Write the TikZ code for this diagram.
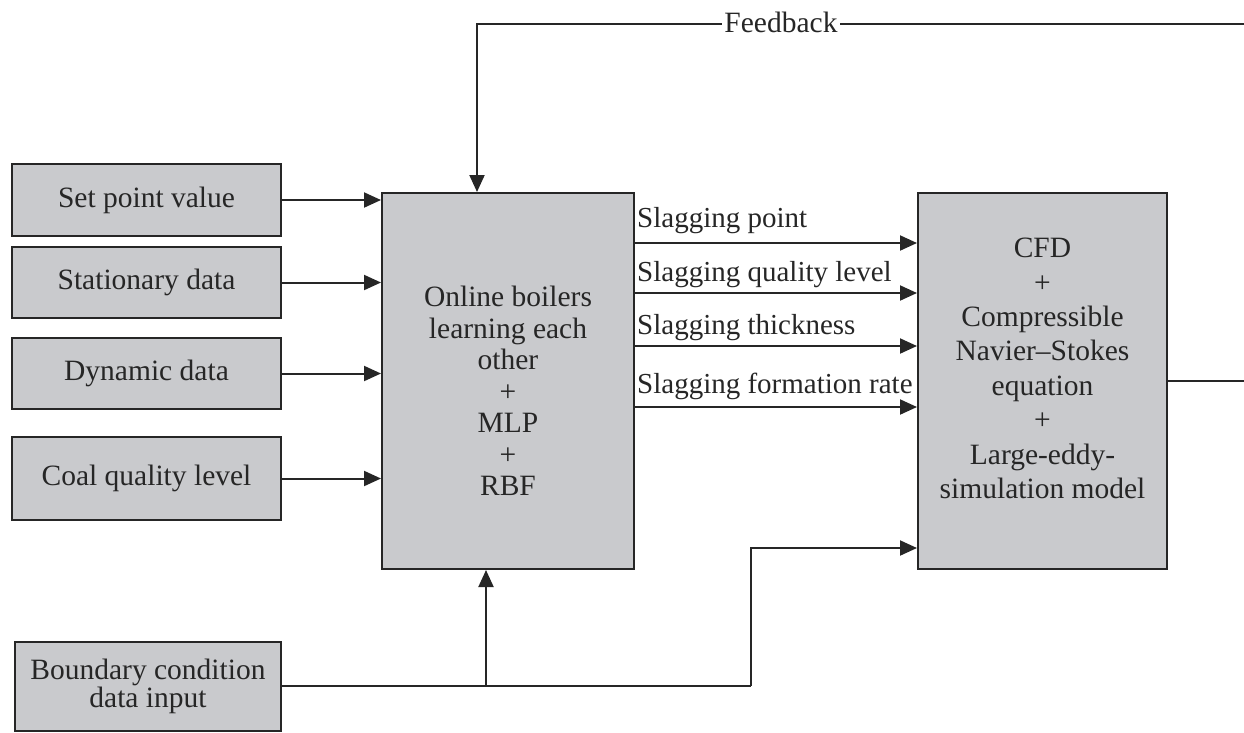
\documentclass[tikz,border=0pt]{standalone}
\usepackage{fontspec}
\setmainfont{Liberation Serif}
\usetikzlibrary{arrows.meta}
\definecolor{boxfill}{HTML}{C9CACD}
\definecolor{ink}{HTML}{262626}
\begin{document}
\begin{tikzpicture}[x=1pt,y=-1pt,
  every node/.style={text=ink, font=\fontsize{29.5}{31.5}\selectfont},
  box/.style={draw=ink, line width=2pt, fill=boxfill, inner sep=0pt},
  conn/.style={draw=ink, line width=2pt},
  arr/.style={conn, -{Triangle[length=17pt,width=15pt]}},
  lbl/.style={anchor=base west, inner sep=0pt, font=\fontsize{29}{31.5}\selectfont},
]
\useasboundingbox (0,0) rectangle (1244,732);

% input boxes
\node[box, minimum width=269pt, minimum height=72pt] (sp)   at (146.5,200)   {\raisebox{2pt}{Set point value}};
\node[box, minimum width=269pt, minimum height=71pt] (st)   at (146.5,282.5) {\raisebox{2pt}{Stationary data}};
\node[box, minimum width=269pt, minimum height=71pt] (dy)   at (146.5,373.5) {\raisebox{2pt}{Dynamic data}};
\node[box, minimum width=269pt, minimum height=83pt] (coal) at (146.5,478.5) {\raisebox{2pt}{Coal quality level}};
\node[box, minimum width=266pt, minimum height=89pt, align=center,
      font=\fontsize{29.5}{27.5}\selectfont] (bc) at (148,686.5) {Boundary condition\\data input};

% learning block
\node[box, minimum width=252pt, minimum height=376pt] (mlp) at (508,381) {};
\node[anchor=north, align=center, inner sep=0pt] (mlptxt) at (508,286)
  {Online boilers\\learning each\\other\\+\\MLP\\+\\RBF};

% CFD block
\node[box, minimum width=249pt, minimum height=376pt] (cfd) at (1042.5,381) {};
\node[anchor=north, align=center, inner sep=0pt, font=\fontsize{29.5}{34.4}\selectfont] (cfdtxt) at (1042.5,238)
  {CFD\\+\\Compressible\\Navier--Stokes\\equation\\+\\Large-eddy-\\simulation model};

% inputs into the learning block
\draw[arr] (sp.east)   -- (sp.east -| mlp.west);
\draw[arr] (st.east)   -- (st.east -| mlp.west);
\draw[arr] (dy.east)   -- (dy.east -| mlp.west);
\draw[arr] (coal.east) -- (coal.east -| mlp.west);

% slagging outputs
\draw[arr] (mlp.east |- 0,243) -- (cfd.west |- 0,243);
\draw[arr] (mlp.east |- 0,293) -- (cfd.west |- 0,293);
\draw[arr] (mlp.east |- 0,346) -- (cfd.west |- 0,346);
\draw[arr] (mlp.east |- 0,407) -- (cfd.west |- 0,407);
\node[lbl] (l1) at (637,227) {Slagging point};
\node[lbl] (l2) at (637,281) {Slagging quality level};
\node[lbl] (l3) at (637,334) {Slagging thickness};
\node[lbl] (l4) at (637,393) {Slagging formation rate};

% boundary condition distribution
\coordinate (bcR)  at (751,686);
\coordinate (brk)  at (486,686);
\draw[conn] (bc.east |- bcR) -- (bcR);
\draw[arr] (bcR) -- (751,548) -- (cfd.west |- 0,548);
\draw[arr] (brk) -- (brk |- mlp.south);

% CFD output and feedback loop
\coordinate (outR) at (1250,381);
\draw[conn] (cfd.east |- outR) -- (outR);
\coordinate (fbR) at (1250,24);
\coordinate (fbL) at (477,24);
\draw[arr] (fbR) -- (fbL) -- (fbL |- mlp.north);
\node[fill=white, inner xsep=2pt, inner ysep=1pt] (fb) at (781,22) {Feedback};
\end{tikzpicture}
\end{document}
